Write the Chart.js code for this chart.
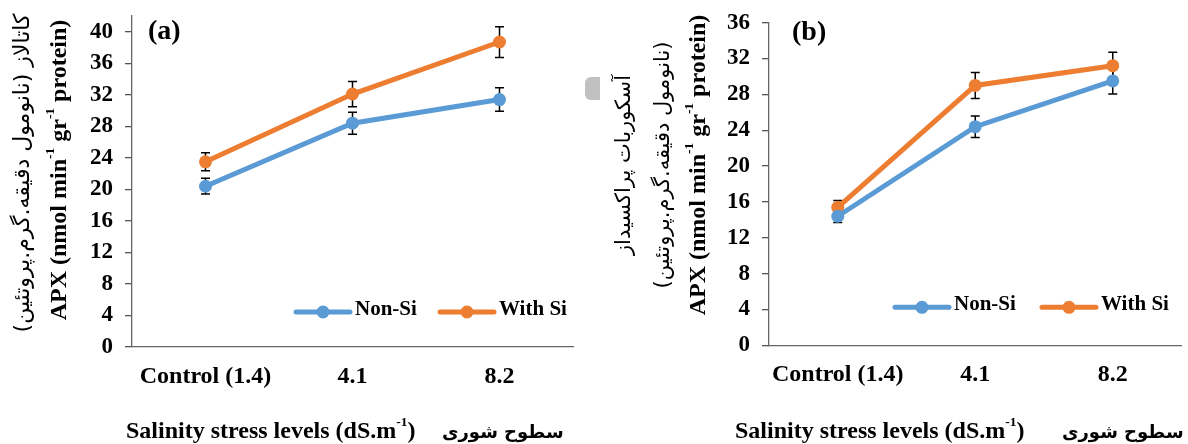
<!DOCTYPE html>
<html>
<head>
<meta charset="utf-8">
<script src="https://cdn.jsdelivr.net/npm/chart.js@4.4.1/dist/chart.umd.min.js"></script>
<style>
body { margin: 0; background: #fff; }
#wrap { position: relative; width: 1188px; height: 444px; overflow: hidden; font-family: "Liberation Serif", serif; color: #000; }
canvas { position: absolute; top: 0; }
.rot { position: absolute; white-space: nowrap; transform: translate(-50%, -50%) rotate(-90deg); }
.en { font-weight: bold; font-size: 24px; }
.fa { font-family: "DejaVu Sans", sans-serif; font-size: 22px; direction: rtl; }
.fa2 { font-size: 21px; }
.xt { position: absolute; white-space: nowrap; transform: translateY(-50%); }
.fab { font-family: "DejaVu Sans", sans-serif; font-weight: bold; font-size: 18px; direction: rtl; }
sup { font-size: 56%; line-height: 0; position: relative; top: -0.2em; }
.mark { position: absolute; background: #c0c0c0; }
</style>
</head>
<body>
<div id="wrap">
  <canvas id="chartA" width="590" height="444" style="left:0"></canvas>
  <canvas id="chartB" width="598" height="444" style="left:590px"></canvas>

  <div class="rot fa" style="left:21px; top:173px">کاتالاز (نانومول دقیقه.گرم.پروتئین)</div>
  <div class="rot en" style="left:58px; top:170px">APX (nmol min<sup>-1</sup> gr<sup>-1</sup> protein)</div>
  <div class="xt en" style="left:126px; top:430px">Salinity stress levels (dS.m<sup>-1</sup>)</div>
  <div class="xt fab" style="left:442px; top:431px">سطوح شوری</div>

  <div class="rot fa fa2" style="left:623px; top:165px">آسکوربات پراکسیداز</div>
  <div class="rot fa fa2" style="left:662px; top:165px">(نانومول دقیقه.گرم.پروتئین)</div>
  <div class="rot en" style="left:697px; top:165px">APX (nmol min<sup>-1</sup> gr<sup>-1</sup> protein)</div>
  <div class="xt en" style="left:735px; top:430px">Salinity stress levels (dS.m<sup>-1</sup>)</div>
  <div class="xt fab" style="left:1062px; top:431px">سطوح شوری</div>

  <div class="mark" style="left:585px; top:77px; width:15px; height:23px; border-radius:6px 0 0 6px"></div>
</div>
<script>
const categories = ['Control (1.4)', '4.1', '8.2'];
const seriesNames = ['Non-Si', 'With Si'];

const nonSiA = [20.4, 28.4, 31.4];
const withSiA = [23.5, 32.1, 38.7];
const nonSiErrA = [1.0, 1.4, 1.5];
const withSiErrA = [1.15, 1.6, 1.95];
const yTicksA = [0, 4, 8, 12, 16, 20, 24, 28, 32, 36, 40];

const nonSiB = [14.4, 24.4, 29.5];
const withSiB = [15.4, 29.0, 31.2];
const nonSiErrB = [0.7, 1.2, 1.45];
const withSiErrB = [0.75, 1.45, 1.5];
const yTicksB = [0, 4, 8, 12, 16, 20, 24, 28, 32, 36];

const blue = '#5B9BD5';
const orange = '#ED7D31';

// error bars, drawn under the lines and markers
const errorBars = {
    id: 'errorBars',
    beforeDatasetsDraw(chart) {
        const ctx = chart.ctx;
        const y = chart.scales.y;
        ctx.save();
        ctx.strokeStyle = '#000';
        ctx.lineWidth = 1.5;
        chart.data.datasets.forEach((ds, i) => {
            const meta = chart.getDatasetMeta(i);
            meta.data.forEach((pt, j) => {
                const v = ds.data[j], e = ds.errors[j];
                const top = y.getPixelForValue(v + e);
                const bot = y.getPixelForValue(v - e);
                ctx.beginPath();
                ctx.moveTo(pt.x, top); ctx.lineTo(pt.x, bot);
                ctx.moveTo(pt.x - 4.5, top); ctx.lineTo(pt.x + 4.5, top);
                ctx.moveTo(pt.x - 4.5, bot); ctx.lineTo(pt.x + 4.5, bot);
                ctx.stroke();
            });
        });
        ctx.restore();
    }
};

// legend sitting inside the plot area
const innerLegend = {
    id: 'innerLegend',
    afterDraw(chart, args, opts) {
        const ctx = chart.ctx;
        const area = chart.chartArea;
        const ly = area.bottom - opts.fromBottom;
        ctx.save();
        chart.data.datasets.forEach((ds, i) => {
            const x0 = area.left + opts.fromLeft + i * opts.step;
            ctx.strokeStyle = ds.borderColor;
            ctx.lineWidth = 5;
            ctx.lineCap = 'round';
            ctx.beginPath();
            ctx.moveTo(x0, ly); ctx.lineTo(x0 + 54, ly);
            ctx.stroke();
            ctx.fillStyle = ds.borderColor;
            ctx.beginPath();
            ctx.arc(x0 + 27, ly, 6.5, 0, Math.PI * 2);
            ctx.fill();
            ctx.fillStyle = '#000';
            ctx.font = 'bold 21px "Liberation Serif"';
            ctx.textBaseline = 'alphabetic';
            ctx.fillText(ds.label, x0 + 59, ly + 3);
        });
        ctx.restore();
    }
};

// panel letter
const panelTag = {
    id: 'panelTag',
    afterDraw(chart, args, opts) {
        const ctx = chart.ctx;
        ctx.save();
        ctx.fillStyle = '#000';
        ctx.font = 'bold 28px "Liberation Serif"';
        ctx.textBaseline = 'middle';
        ctx.fillText(opts.text, chart.chartArea.left + opts.dx, opts.y);
        ctx.restore();
    }
};

function noPad(s) {
    s.paddingTop = 0; s.paddingBottom = 0; s.paddingLeft = 0; s.paddingRight = 0;
}

function makeChart(id, nonSi, withSi, nonSiErr, withSiErr, yTicks, yMax, lay) {
    const ds = (name, vals, errs, color) => ({
        label: name,
        data: vals,
        errors: errs,
        borderColor: color,
        backgroundColor: color,
        borderWidth: 5,
        pointRadius: 6.5,
        pointHoverRadius: 6.5,
        pointBorderWidth: 0,
        tension: 0
    });
    return new Chart(document.getElementById(id).getContext('2d'), {
        type: 'line',
        data: {
            labels: categories,
            datasets: [
                ds(seriesNames[0], nonSi, nonSiErr, blue),
                ds(seriesNames[1], withSi, withSiErr, orange)
            ]
        },
        options: {
            responsive: false,
            animation: false,
            layout: { padding: { left: 0, right: lay.right, top: lay.top, bottom: 0 } },
            plugins: {
                legend: { display: false },
                tooltip: { enabled: false },
                innerLegend: lay.legend,
                panelTag: lay.tag
            },
            scales: {
                x: {
                    offset: true,
                    grid: { display: false },
                    border: { color: '#666', width: 1.3 },
                    ticks: {
                        color: '#000', padding: 7, maxRotation: 0, minRotation: 0, autoSkip: false,
                        font: { family: 'Liberation Serif', weight: 'bold', size: 24 }
                    },
                    afterFit(s) { s.height = lay.xHeight; noPad(s); }
                },
                y: {
                    min: 0,
                    max: yMax,
                    grid: { drawOnChartArea: false, tickLength: 7, color: '#555', lineWidth: 1.3 },
                    border: { color: '#666', width: 1.3 },
                    ticks: { color: '#000', padding: 12, font: { family: 'Liberation Serif', weight: 'bold', size: 23 } },
                    afterBuildTicks(s) { s.ticks = yTicks.map(v => ({ value: v })); },
                    afterFit(s) { s.width = lay.yWidth; noPad(s); }
                }
            }
        },
        plugins: [errorBars, innerLegend, panelTag]
    });
}

makeChart('chartA', nonSiA, withSiA, nonSiErrA, withSiErrA, yTicksA, 42, {
    right: 17, top: 16, xHeight: 97, yWidth: 132,
    legend: { fromLeft: 164, fromBottom: 35, step: 144 },
    tag: { text: '(a)', dx: 16, y: 32 }
});
makeChart('chartB', nonSiB, withSiB, nonSiErrB, withSiErrB, yTicksB, 36, {
    right: 1, top: 22.7, xHeight: 98.7, yWidth: 179,
    legend: { fromLeft: 126, fromBottom: 38, step: 147 },
    tag: { text: '(b)', dx: 23, y: 33 }
});
</script>
</body>
</html>
